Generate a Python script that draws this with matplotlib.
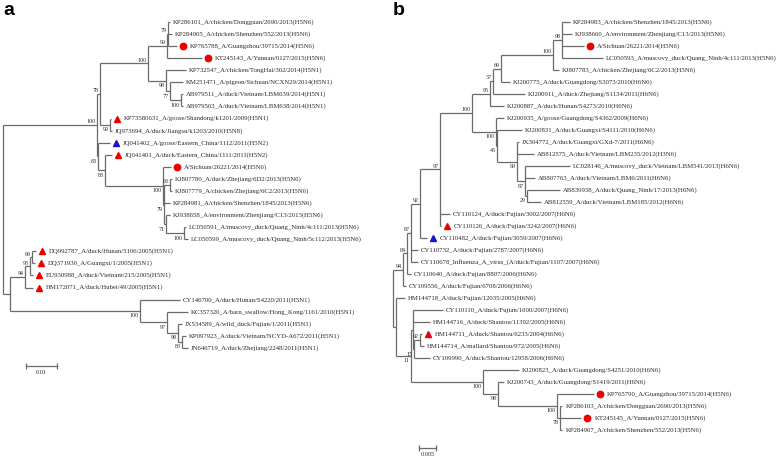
import matplotlib
matplotlib.use('Agg')
import matplotlib.pyplot as plt
from matplotlib.transforms import offset_copy

# Newick trees (branch lengths = substitutions/site, internal labels = bootstrap)
tree_a = """(
 (
  (
   (
    (('KP286101_A/chicken/Dongguan/2690/2013(H5N6)':0.0006,
      'KP284965_A/chicken/Shenzhen/552/2013(H5N6)':0.0013,
      'KP765788_A/Guangzhou/39715/2014(H5N6)':0.0029)79:0.0003,
     'KT245143_A/Yunnan/0127/2015(H5N6)':0.0113)99:0.0061,
    ('KP732547_A/chicken/TongHai/302/2014(H5N1)':0.0065,
     ('KM251471_A/pigeon/Sichuan/NCXN29/2014(H5N1)':0.0042,
      ('AB979511_A/duck/Vietnam/LBM639/2014(H5N1)':0.0006,
       'AB979503_A/duck/Vietnam/LBM638/2014(H5N1)':0.0006)100:0.0035)77:0.0013)98:0.0058
   )100:0.0155,
   ('KP73580631_A/goose/Shandong/k1201/2009(H5N1)':0.0003,
    'JQ973694_A/duck/Jiangsu/k1203/2010(H5N8)':0.0006)99:0.0032
  )78:0.0010,
  ('JQ041402_A/goose/Eastern_China/1112/2011(H5N2)':0.0039,
   ('JQ041401_A/duck/Eastern_China/1111/2011(H5N2)':0.0023,
    ('A/Sichuan/26221/2014(H5N6)':0.0026,
     (('KJ807780_A/duck/Zhejiang/6D2/2013(H5N6)':0.0006,
       'KJ807779_A/chicken/Zhejiang/6C2/2013(H5N6)':0.0006)93:0.0019,
      'KP284981_A/chicken/Shenzhen/1845/2013(H5N6)':0.0019,
      ('KJ938658_A/environment/Zhenjiang/C13/2013(H5N6)':0.0013,
       ('LC050591_A/muscovy_duck/Quang_Ninh/4c111/2013(H5N6)':0.0006,
        'LC050599_A/muscovy_duck/Quang_Ninh/5c112/2013(H5N6)':0.0013)100:0.0058)71:0.0006
     )79:0.0003
    )100:0.0187
   )88:0.0023
  )63:0.0003
 )100:0.0303,
 (
  (
   (('DQ992787_A/duck/Hunan/5106/2005(H5N1)':0.0013,
     'DQ371930_A/Guangxi/1/2005(H5N1)':0.0010)69:0.0006,
    'EU930988_A/duck/Vietnam/215/2005(H5N1)':0.0010)95:0.0016,
   'HM172071_A/duck/Hubei/49/2005(H5N1)':0.0026
  )94:0.0048,
  ('CY146700_A/duck/Hunan/S4220/2011(H5N1)':0.0129,
   ('KC357320_A/barn_swallow/Hong_Kong/1161/2010(H5N1)':0.0068,
    ('JX534589_A/wild_duck/Fujian/1/2011(H5N1)':0.0013,
     ('KP097923_A/duck/Vietnam/NCYD-A672/2011(H5N1)':0.0013,
      'JN646719_A/duck/Zhejiang/2248/2011(H5N1)':0.0019)83:0.0013)98:0.0035
   )97:0.0087
  )100:0.0419
 ):0.0023
);"""

tree_b = """(
 (
  (
   (
    (
     (
      (
       (
        (
         (
          (('KP284983_A/chicken/Shenzhen/1845/2013(H5N6)':0.0024,
            'KJ938660_A/environment/Zhenjiang/C13/2013(H5N6)':0.0029,
            'A/Sichuan/26221/2014(H5N6)':0.0065,
            'LC050593_A/muscovy_duck/Quang_Ninh/4c111/2013(H5N6)':0.0120)98:0.0026,
           'KJ807783_A/chicken/Zhejiang/6C2/2013(H5N6)':0.0018)100:0.0153,
          'KJ200775_A/duck/Guangdong/S3073/2010(H6N6)':0.0026)69:0.0024,
         'KJ200911_A/duck/Zhejiang/S1134/2011(H6N6)':0.0094)37:0.0009,
        'KJ200887_A/duck/Hunan/S4273/2010(H6N6)':0.0041)95:0.0053,
       ('KJ200935_A/goose/Guangdong/S4362/2009(H6N6)':0.0024,
        ('KJ200831_A/duck/Guangxi/S4111/2010(H6N6)':0.0074,
         ('JX304772_A/duck/Guangxi/GXd-7/2011(H6N6)':0.0006,
          'AB812575_A/duck/Vietnam/LBM235/2012(H3N6)':0.0050,
          ('LC028146_A/muscovy_duck/Vietnam/LBM541/2013(H6N6)':0.0132,
           'AB807763_A/duck/Vietnam/LBM6/2011(H6N6)':0.0029,
           ('AB839938_A/duck/Quang_Ninh/17/2013(H6N6)':0.0097,
            'AB812559_A/duck/Vietnam/LBM185/2012(H6N6)':0.0041)29:0.0006)87:0.0024
         )99:0.0059
        )45:0.0003
       )100:0.0071
      )100:0.0094,
      'CY110124_A/duck/Fujian/3002/2007(H6N6)':0.0029,
      'CY110126_A/duck/Fujian/3242/2007(H6N6)':0.0003)97:0.0059,
     'CY110482_A/duck/Fujian/3059/2007(H6N6)':0.0021)92:0.0026,
    'CY110732_A/duck/Fujian/2787/2007(H6N6)':0.0021,
    'CY110678_Influenza_A_virus_(A/duck/Fujian/1107/2007(H6N6)':0.0021)87:0.0012,
   'CY110640_A/duck/Fujian/8807/2006(H6N6)':0.0012)84:0.0012,
  'CY109556_A/duck/Fujian/6708/2006(H6N6)':0.0009)94:0.0029,
 ('HM144718_A/duck/Fujian/12035/2005(H6N6)':0.0026,
  (('CY110110_A/duck/Fujian/1600/2007(H6N6)':0.0088,
    'HM144716_A/duck/Shantou/11392/2005(H6N6)':0.0050,
    (('HM144711_A/duck/Shantou/6233/2004(H6N6)':0.0006,
      'HM144714_A/mallard/Shantou/972/2005(H6N6)':0.0012)92:0.0018,
     'CY109990_A/duck/Shantou/12958/2006(H6N6)':0.0047)15:0.0003):0.0006,
   ('KJ200823_A/duck/Guangdong/S4251/2010(H6N6)':0.0106,
    ('KJ200743_A/duck/Guangdong/S1419/2011(H6N6)':0.0018,
     ('KP765790_A/Guangzhou/39715/2014(H5N6)':0.0109,
      ('KP286103_A/chicken/Dongguan/2690/2013(H5N6)':0.0006,
       'KT245145_A/Yunnan/0127/2015(H5N6)':0.0062,
       'KP284967_A/chicken/Shenzhen/552/2013(H5N6)':0.0006)78:0.0009)100:0.0174)98:0.0044
   )100:0.0212
  )11:0.0044
 ):0.0009
);"""

# highlighted strains: rc = red circle, rt = red triangle, bt = blue triangle
marks_a = {'KP765788': 'rc', 'KT245143': 'rc', 'A/Sichuan/26221/2014(H5N6)': 'rc',
           'KP73580631': 'rt', 'JQ041402': 'bt', 'JQ041401': 'rt',
           'DQ992787': 'rt', 'DQ371930': 'rt', 'EU930988': 'rt', 'HM172071': 'rt'}
marks_b = {'A/Sichuan/26221/2014(H5N6)': 'rc', 'CY110126': 'rt', 'CY110482': 'bt',
           'HM144711': 'rt', 'KP765790': 'rc', 'KT245145': 'rc'}

scale_a = 0.01
scale_b = 0.005

LINE = '#6a6a6a'
TXT = '#2a2a2a'
MARK = {'rc': ('o', '#ee0000', 4.6), 'rt': ('^', '#ee0000', 5.0), 'bt': ('^', '#1515d0', 5.0)}


def parse_newick(s):
    s = ''.join(s.split())
    pos = 0

    def node():
        nonlocal pos
        kids = []
        if s[pos] == '(':
            pos += 1
            kids.append(node())
            while s[pos] == ',':
                pos += 1
                kids.append(node())
            pos += 1
        name = ''
        if s[pos] == "'":
            end = s.index("'", pos + 1)
            name = s[pos + 1:end]
            pos = end + 1
        else:
            while s[pos] not in ':,();':
                name += s[pos]
                pos += 1
        length = 0.0
        if s[pos] == ':':
            pos += 1
            start = pos
            while s[pos] not in ',();':
                pos += 1
            length = float(s[start:pos])
        return {'name': name, 'len': length, 'kids': kids}

    return node()


def layout(node, x0, leaves):
    node['x'] = x0 + node['len']
    if node['kids']:
        for k in node['kids']:
            layout(k, node['x'], leaves)
        node['y'] = (node['kids'][0]['y'] + node['kids'][-1]['y']) / 2
    else:
        node['y'] = len(leaves)
        leaves.append(node)


def draw(ax, node, parent_x, first, marks, fig):
    x, y = node['x'], node['y']
    if parent_x is not None:
        ax.plot([parent_x, x], [y, y], color=LINE, lw=0.9, solid_capstyle='butt')
    if node['kids']:
        ys = [k['y'] for k in node['kids']]
        ax.plot([x, x], [min(ys), max(ys)], color=LINE, lw=0.9, solid_capstyle='butt')
        for i, k in enumerate(node['kids']):
            draw(ax, k, x, i == 0, marks, fig)
        if node['name'] and parent_x is not None:
            if first:
                ax.annotate(node['name'], (x, y), xytext=(-1.5, 0.8), textcoords='offset pixels',
                            ha='right', va='bottom', fontsize=4.3, color=TXT, family='Liberation Serif')
            else:
                ax.annotate(node['name'], (x, y), xytext=(-1.5, -2.5), textcoords='offset pixels',
                            ha='right', va='top', fontsize=4.3, color=TXT, family='Liberation Serif')
    else:
        key = node['name'].split('_')[0]
        dx = 3
        if key in marks:
            m, c, ms = MARK[marks[key]]
            tr = offset_copy(ax.transData, fig=fig, x=6, y=0, units='dots')
            ax.plot([x], [y], marker=m, color=c, ms=ms, mec=c, transform=tr, clip_on=False)
            dx = 13
        ax.annotate(node['name'], (x, y), xytext=(dx, 0), textcoords='offset pixels',
                    ha='left', va='center', fontsize=4.9, color=TXT, family='Liberation Serif')


def scale_bar(ax, x0, y0, length, label):
    ax.plot([x0, x0 + length], [y0, y0], color=LINE, lw=0.9, marker='|', ms=4, mew=0.9)
    ax.annotate(label, (x0 + length / 2, y0), xytext=(0, -4), textcoords='offset pixels',
                ha='center', va='top', fontsize=4.5, color=TXT, family='Liberation Serif')


fig = plt.figure(figsize=(7.78, 4.58), dpi=100)
ax_a = fig.add_axes([0, 0, 389 / 778, 1])
ax_b = fig.add_axes([389 / 778, 0, 389 / 778, 1])

panels = [
    (ax_a, tree_a, marks_a, 3100.0, 3, 12.07),
    (ax_b, tree_b, marks_b, 3400.0, 4, 12.0),
]
for ax, nwk, marks, px_unit, root_px, row_px in panels:
    root = parse_newick(nwk)
    leaves = []
    layout(root, 0.0, leaves)
    draw(ax, root, None, True, marks, fig)
    ax.set_xlim(-root_px / px_unit, (389 - root_px) / px_unit)
    ax.set_ylim((458 - 22) / row_px, -22 / row_px)
    ax.axis('off')

scale_bar(ax_a, 0.0074, 28.5, scale_a, str(scale_a))
scale_bar(ax_b, 0.0076, 35.5, scale_b, str(scale_b))

fig.text(3 / 778, 1 - 15 / 458, 'a', fontsize=14, fontweight='bold', family='Liberation Sans')
fig.text(393 / 778, 1 - 15 / 458, 'b', fontsize=14, fontweight='bold', family='Liberation Sans')

fig.savefig('out.png', dpi=100)
